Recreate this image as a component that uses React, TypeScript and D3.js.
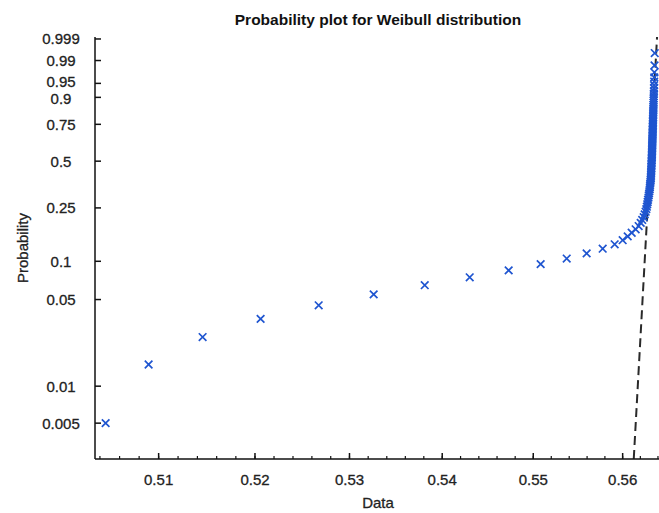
import React from "react";
import * as d3 from "d3";

const width = 659;
const height = 513;

// plotting positions are (i - 0.5) / n
const dataValues = [
  0.50458, 0.50897, 0.51454, 0.52059, 0.52672, 0.53259, 0.5381, 0.543, 0.54728, 0.55082,
  0.55372, 0.55595, 0.55775, 0.5591, 0.56, 0.56057, 0.56102, 0.56147, 0.56181, 0.56204,
  0.56221, 0.56238, 0.56249, 0.5626, 0.56268, 0.56274, 0.56278, 0.56283, 0.56287, 0.56292,
  0.56295, 0.56299, 0.56302, 0.56306, 0.56308, 0.5631, 0.56312, 0.56315, 0.56317, 0.56319,
  0.5632, 0.56321, 0.56322, 0.56323, 0.56324, 0.56325, 0.56325, 0.56326, 0.56327, 0.56328,
  0.56329, 0.56329, 0.5633, 0.56331, 0.56331, 0.56332, 0.56333, 0.56333, 0.56334, 0.56334,
  0.56335, 0.56335, 0.56336, 0.56336, 0.56337, 0.56337, 0.56338, 0.56338, 0.56339, 0.56339,
  0.5634, 0.5634, 0.56341, 0.56341, 0.56342, 0.56342, 0.56343, 0.56343, 0.56344, 0.56345,
  0.56345, 0.56346, 0.56346, 0.56347, 0.56348, 0.56348, 0.56349, 0.5635, 0.5635, 0.56351,
  0.56352, 0.56353, 0.56354, 0.56355, 0.56356, 0.56357, 0.56358, 0.56359, 0.56361, 0.56363
];

const yTicks = [0.005, 0.01, 0.05, 0.1, 0.25, 0.5, 0.75, 0.9, 0.95, 0.99, 0.999];
const xTicks = [0.51, 0.52, 0.53, 0.54, 0.55, 0.56];
const xMinorTicks = d3.range(0.504, 0.5645, 0.002);

// fitted weibull reference line
const fitScale = 0.56324;
const fitShape = 1690;

const xDomain = [0.5035, 0.5648];
const pDomain = [0.00255, 0.99923];

const left = 95;
const right = 665;
const top = 37;
const bottom = 459;

const weib = (p: number) => Math.log(-Math.log(1 - p));

const font = "'Liberation Sans', Arial, sans-serif";
const blue = "#1f55d0";

export default function App() {
  const n = dataValues.length;

  const xScale = d3.scaleLog().domain(xDomain).range([left, right]);
  const yScale = d3
    .scaleLinear()
    .domain([weib(pDomain[0]), weib(pDomain[1])])
    .range([bottom, top]);

  const points = dataValues.map((v, i) => ({
    x: xScale(v),
    y: yScale(weib((i + 0.5) / n))
  }));

  // W = shape * (ln x - ln scale)
  const fitX = (w: number) => fitScale * Math.exp(w / fitShape);
  const w0 = weib(pDomain[0]);
  const w1 = weib(pDomain[1]);

  // 0.95 and 0.9 sit very close, nudge them apart a touch
  const labelNudge = (t: number) => (t === 0.95 ? -1.5 : t === 0.9 ? 1.5 : 0);

  return (
    <div style={{ position: "absolute", left: 0, top: 0 }}>
      <svg width={width} height={height} style={{ display: "block", background: "#fff" }}>
        <defs>
          <clipPath id="plot">
            <rect x={left} y={top} width={width - left} height={bottom - top} />
          </clipPath>
        </defs>

        <text
          x={(left + right) / 2 - 2}
          y={25}
          textAnchor="middle"
          fontFamily={font}
          fontWeight="bold"
          fontSize={15.5}
          fill="#111"
        >
          Probability plot for Weibull distribution
        </text>

        {/* reference line */}
        <line
          x1={xScale(fitX(w0))}
          y1={yScale(w0)}
          x2={xScale(fitX(w1))}
          y2={yScale(w1)}
          stroke="#2a2a2a"
          strokeWidth={2}
          strokeDasharray="9,5"
          clipPath="url(#plot)"
        />

        {/* data markers */}
        <g stroke={blue} strokeWidth={1.7} clipPath="url(#plot)">
          {points.map((d, i) => (
            <path
              key={i}
              d={`M${d.x - 3.8},${d.y - 3.8}L${d.x + 3.8},${d.y + 3.8}M${d.x - 3.8},${d.y + 3.8}L${d.x + 3.8},${d.y - 3.8}`}
              fill="none"
            />
          ))}
        </g>

        {/* axes */}
        <g stroke="#111" strokeWidth={1.5}>
          <line x1={left} y1={top} x2={left} y2={bottom} />
          <line x1={left} y1={bottom} x2={width} y2={bottom} />
          {yTicks.map((t) => (
            <line key={t} x1={left} x2={left + 6} y1={yScale(weib(t))} y2={yScale(weib(t))} />
          ))}
          {xTicks.map((t) => (
            <line key={t} x1={xScale(t)} x2={xScale(t)} y1={bottom} y2={bottom - 6} />
          ))}
          {xMinorTicks.map((t, i) => (
            <line key={i} x1={xScale(t)} x2={xScale(t)} y1={bottom} y2={bottom - 3} strokeWidth={1.2} />
          ))}
        </g>

        <g fontFamily={font} fontSize={15} fill="#222" stroke="#222" strokeWidth={0.3}>
          {yTicks.map((t) => (
            <text
              key={t}
              x={61}
              y={yScale(weib(t)) + labelNudge(t)}
              dy="0.36em"
              textAnchor="middle"
            >
              {t}
            </text>
          ))}
          {xTicks.map((t) => (
            <text key={t} x={xScale(t)} y={485} textAnchor="middle">
              {t}
            </text>
          ))}
          <text x={(left + right) / 2 - 2} y={508} textAnchor="middle">
            Data
          </text>
          <text transform={`translate(28,${(top + bottom) / 2}) rotate(-90)`} textAnchor="middle">
            Probability
          </text>
        </g>
      </svg>
    </div>
  );
}
